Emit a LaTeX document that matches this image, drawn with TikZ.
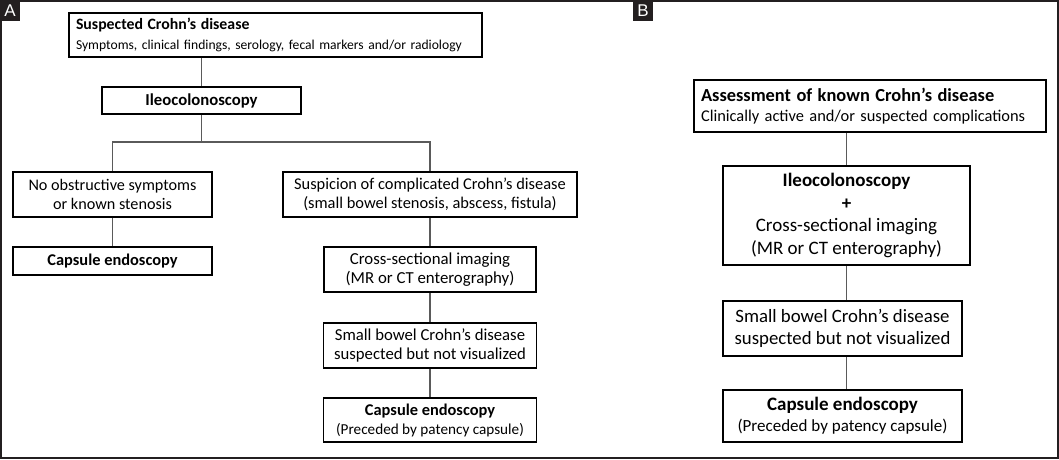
\documentclass[tikz,border=0pt]{standalone}
\usepackage{fontspec}
\setmainfont{Carlito}
\newfontfamily\labelfont{Liberation Sans}
\definecolor{frame}{HTML}{231F20}
\definecolor{conncol}{HTML}{5A5A5A}
\newcommand{\fs}[2]{\fontsize{#1}{#2}\selectfont}
\tikzset{
  fbox/.style={draw=black, line width=1.8pt, inner sep=0pt, align=center, fill=white},
  conn/.style={draw=conncol, line width=1.1pt},
  plabel/.style={fill=frame, text=white, inner sep=0pt, minimum width=20pt, minimum height=21pt, font=\labelfont\fs{17}{17}}
}
\begin{document}
\begin{tikzpicture}[x=1pt,y=-1pt]
\useasboundingbox (0,0) rectangle (1059,459);
\draw[frame, line width=2pt] (1,1) rectangle (1058,458);
\node[plabel] (la) at (10,10.5) {A};
\node[plabel] (lb) at (643,10.5) {B};

% Panel A
\node[fbox, align=left, text width=399pt, inner xsep=7pt, minimum height=44pt, font=\fs{13.6}{20}] (top) at (275.5,35)
  {{\fs{15.8}{20}\textbf{Suspected Crohn’s disease}}\\Symptoms, clinical findings, serology, fecal markers and/or radiology};
\node[fbox, font=\fs{16.7}{18.7}, minimum width=199pt, minimum height=27pt] (ileo) at (201.5,100.5) {\textbf{Ileocolonoscopy}};
\coordinate (j) at (201.5,142);
\node[fbox, font=\fs{16.2}{18.7}, minimum width=199pt, minimum height=45pt] (left) at (112.5,194.5) {No obstructive symptoms\\or known stenosis};
\node[fbox, font=\fs{16.4}{18.7}, minimum width=199pt, minimum height=28pt] (cap1) at (112.5,261) {\textbf{Capsule endoscopy}};
\node[fbox, font=\fs{16.4}{18.7}, minimum width=294pt, minimum height=45pt] (susp) at (430,194.5) {Suspicion of complicated Crohn’s disease\\(small bowel stenosis, abscess, fistula)};
\node[fbox, font=\fs{16.8}{18.7}, minimum width=212pt, minimum height=45pt] (cross) at (430,269.5) {Cross-sectional imaging\\(MR or CT enterography)};
\node[fbox, font=\fs{16.7}{18.7}, minimum width=213pt, minimum height=45pt] (sb) at (430,345.5) {Small bowel Crohn’s disease\\suspected but not visualized};
\node[fbox, font=\fs{16.4}{19}, minimum width=213pt, minimum height=44pt] (cap2) at (430,420) {\textbf{Capsule endoscopy}\\{\fs{15.2}{19}(Preceded by patency capsule)}};

\draw[conn] (top.south -| ileo.north) -- (ileo.north);
\draw[conn] (ileo.south) -- (j);
\draw[conn] (left.north) |- (j) -| (susp.north);
\draw[conn] (left.south) -- (cap1.north);
\draw[conn] (susp.south) -- (cross.north);
\draw[conn] (cross.south) -- (sb.north);
\draw[conn] (sb.south) -- (cap2.north);

% Panel B
\node[fbox, align=left, text width=338pt, inner xsep=7pt, minimum height=52pt, font=\fs{16.4}{20}] (assess) at (870,106)
  {{\fs{18.4}{20}\textbf{Assessment of known Crohn’s disease}}\\Clinically active and/or suspected complications};
\node[fbox, font=\fs{19}{22.7}, minimum width=247pt, minimum height=99pt] (ileoB) at (846.5,215.5)
  {\textbf{Ileocolonoscopy}\\\textbf{+}\\Cross-sectional imaging\\(MR or CT enterography)};
\node[fbox, font=\fs{18.8}{22}, minimum width=239pt, minimum height=55pt] (sbB) at (842.5,328.5) {Small bowel Crohn’s disease\\suspected but not visualized};
\node[fbox, font=\fs{19}{21}, minimum width=239pt, minimum height=52pt] (capB) at (842.5,416) {\textbf{Capsule endoscopy}\\{\fs{17}{21}(Preceded by patency capsule)}};

\draw[conn] (assess.south -| ileoB.north) -- (ileoB.north);
\draw[conn] (ileoB.south) -- (ileoB.south |- sbB.north);
\draw[conn] (ileoB.south |- sbB.south) -- (ileoB.south |- capB.north);
\end{tikzpicture}
\end{document}
